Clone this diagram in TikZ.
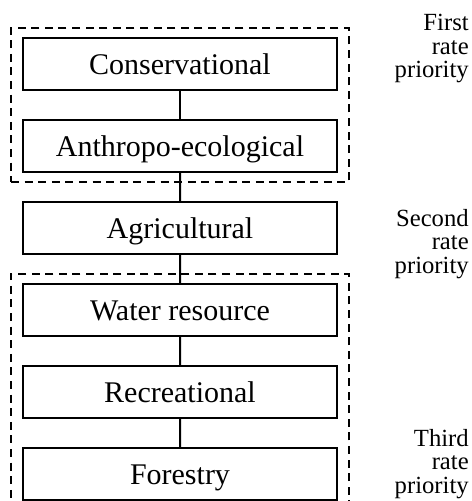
\documentclass[tikz,border=0pt]{standalone}
\usepackage{fontspec}
\setmainfont{Liberation Serif}
\usetikzlibrary{trees,fit}
\tikzstyle{unit}=[draw=black,line width=1.5pt,minimum width=235.5pt,minimum height=39pt,inner sep=2pt,text height=15.75pt,text depth=0pt,font=\fontsize{22.5}{27}\selectfont]
\tikzstyle{group}=[draw=black,line width=1.4pt,dash pattern=on 6pt off 4.2pt,inner xsep=8.25pt,inner ysep=7pt]
\tikzstyle{rank}=[align=right,anchor=north east,inner sep=0pt,font=\fontsize{18.5}{17.6}\selectfont]

\begin{document}
\begin{tikzpicture}[x=0.75pt,y=0.75pt,
  level distance=61.5pt,
  edge from parent/.style={draw=black,line width=1.5pt}]
  \useasboundingbox (0,0) rectangle (472,-501);
  \clip (0,0) rectangle (472,-501);
  \node[unit] (cons) at (180,-64) {Conservational}
    child { node[unit] (anth) {Anthropo-ecological}
      child { node[unit] (agri) {Agricultural}
        child { node[unit] (water) {Water resource}
          child { node[unit] (recr) {Recreational}
            child { node[unit] (fore) {Forestry} }
          }
        }
      }
    };
  % priority groups
  \node[group,fit=(cons)(anth)] (first) {};
  \node[group,fit=(water)(fore)] (third) {};
  \node[rank] (lab1) at (469,-14) {First\\rate\\priority};
  \node[rank] (lab2) at (469,-209) {Second\\rate\\priority};
  \node[rank] (lab3) at (469,-429) {Third\\rate\\priority};
\end{tikzpicture}
\end{document}
